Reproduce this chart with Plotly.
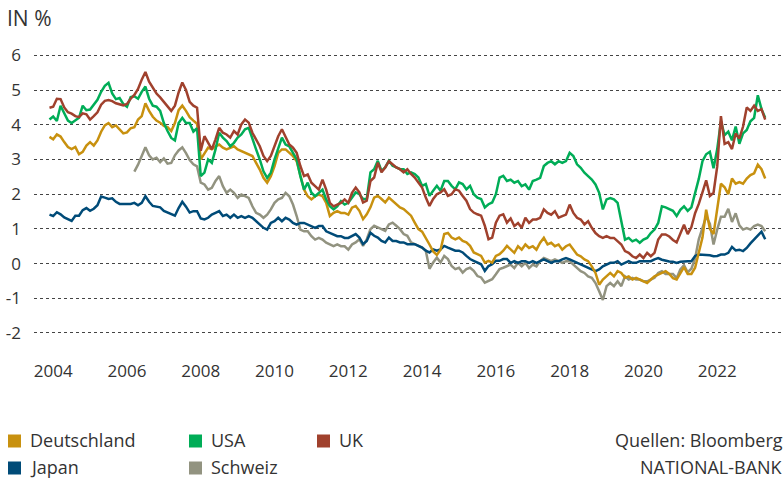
import plotly.graph_objects as go

# ---- data (10-year government bond yields, in %) sampled every 0.1 year from 2003.9 ----
start_year = 2003.9
step = 0.1

deutschland = [3.65,
    3.58, 3.72, 3.66, 3.50, 3.36, 3.30, 3.36, 3.15, 3.22, 3.40,
    3.50, 3.40, 3.55, 3.80, 3.98, 4.05, 3.93, 3.98, 3.85, 3.75,
    3.78, 3.90, 3.93, 4.15, 4.25, 4.62, 4.40, 4.23, 4.12, 4.06,
    3.97, 3.93, 3.82, 4.05, 4.42, 4.55, 4.40, 4.22, 4.12, 4.03,
    3.00, 3.19, 3.34, 3.29, 3.38, 3.43, 3.34, 3.29, 3.34, 3.38,
    3.29, 3.24, 3.19, 3.14, 3.10, 2.90, 2.71, 2.47, 2.33, 2.52,
    2.81, 3.19, 3.29, 3.29, 3.19, 3.10, 2.95, 2.52, 2.13, 1.94,
    1.85, 1.94, 1.99, 1.94, 1.75, 1.37, 1.46, 1.51, 1.46, 1.46,
    1.41, 1.61, 1.66, 1.52, 1.28, 1.42, 1.62, 1.90, 1.95, 1.86,
    1.76, 1.90, 1.81, 1.71, 1.62, 1.57, 1.47, 1.38, 1.18, 0.99,
    0.92, 0.75, 0.55, 0.35, 0.25, 0.40, 0.85, 0.88, 0.75, 0.70,
    0.75, 0.65, 0.61, 0.51, 0.32, 0.27, 0.22, 0.03, 0.08, 0.03,
    0.22, 0.27, 0.37, 0.51, 0.40, 0.31, 0.50, 0.40, 0.55, 0.45,
    0.50, 0.40, 0.60, 0.74, 0.55, 0.60, 0.50, 0.55, 0.40, 0.50,
    0.55, 0.40, 0.26, 0.21, 0.12, 0.07, -0.08, -0.27, -0.61, -0.46,
    -0.37, -0.27, -0.37, -0.22, -0.27, -0.41, -0.37, -0.46, -0.41, -0.46,
    -0.51, -0.56, -0.46, -0.37, -0.32, -0.27, -0.22, -0.30, -0.42, -0.46,
    -0.27, -0.10, -0.30, -0.30, -0.12, 0.35, 0.75, 1.55, 1.00, 0.85,
    1.55, 2.30, 2.20, 2.00, 2.45, 2.30, 2.35, 2.30, 2.45, 2.55,
    2.60, 2.85, 2.72, 2.45]

usa = [4.15,
    4.24, 4.11, 4.55, 4.33, 4.12, 4.05, 4.12, 4.20, 4.55, 4.42,
    4.44, 4.58, 4.72, 4.95, 5.12, 5.21, 4.90, 4.74, 4.77, 4.60,
    4.52, 4.80, 4.82, 4.75, 4.95, 5.10, 4.75, 4.55, 4.52, 4.40,
    4.05, 3.82, 3.62, 3.55, 4.05, 4.20, 4.05, 4.05, 3.80, 3.90,
    2.52, 2.62, 3.00, 2.90, 3.29, 3.77, 3.63, 3.53, 3.38, 3.48,
    3.63, 3.72, 3.87, 3.91, 3.58, 3.29, 3.00, 2.66, 2.47, 2.62,
    3.00, 3.34, 3.63, 3.43, 3.38, 3.19, 3.00, 2.52, 2.13, 2.33,
    2.04, 1.94, 2.04, 2.13, 1.85, 1.65, 1.56, 1.65, 1.80, 1.70,
    1.75, 1.89, 2.05, 2.00, 1.86, 1.86, 2.63, 2.72, 2.96, 2.67,
    2.77, 2.96, 2.82, 2.77, 2.72, 2.72, 2.58, 2.63, 2.58, 2.48,
    2.24, 2.29, 1.95, 2.10, 2.24, 2.10, 2.38, 2.38, 2.24, 2.14,
    2.34, 2.29, 2.14, 2.24, 2.00, 1.90, 1.86, 1.62, 1.71, 1.76,
    2.00, 2.48, 2.53, 2.38, 2.42, 2.33, 2.38, 2.23, 2.28, 2.13,
    2.38, 2.42, 2.47, 2.81, 2.90, 2.95, 2.86, 2.95, 2.90, 2.95,
    3.19, 3.10, 2.86, 2.76, 2.62, 2.52, 2.42, 2.28, 2.04, 1.56,
    1.85, 1.89, 1.85, 1.75, 1.27, 0.69, 0.74, 0.64, 0.69, 0.60,
    0.69, 0.74, 0.88, 0.98, 1.17, 1.65, 1.62, 1.57, 1.52, 1.37,
    1.55, 1.65, 1.52, 1.62, 2.02, 2.44, 2.95, 3.15, 3.22, 2.75,
    3.30, 4.10, 3.70, 3.80, 3.55, 3.95, 3.45, 3.75, 3.85, 4.10,
    4.20, 4.85, 4.45, 4.20]

uk = [4.49,
    4.52, 4.75, 4.74, 4.50, 4.36, 4.32, 4.25, 4.22, 4.33, 4.30,
    4.15, 4.25, 4.36, 4.58, 4.69, 4.71, 4.68, 4.62, 4.59, 4.56,
    4.60, 4.75, 4.86, 5.03, 5.30, 5.52, 5.24, 5.06, 4.90, 4.79,
    4.66, 4.50, 4.40, 4.55, 4.93, 5.22, 5.00, 4.66, 4.55, 4.49,
    3.25, 3.67, 3.48, 3.29, 3.58, 3.91, 3.77, 3.72, 3.63, 3.82,
    3.72, 4.01, 4.15, 4.06, 3.77, 3.58, 3.38, 3.10, 2.95, 3.10,
    3.38, 3.67, 3.87, 3.63, 3.43, 3.34, 3.19, 2.81, 2.52, 2.57,
    2.33, 2.23, 2.13, 2.42, 2.13, 1.75, 1.65, 1.70, 1.75, 1.85,
    1.75, 2.04, 2.19, 2.05, 1.76, 1.81, 2.38, 2.48, 2.91, 2.63,
    2.77, 2.95, 2.85, 2.77, 2.72, 2.63, 2.72, 2.58, 2.48, 2.34,
    2.19, 1.90, 1.66, 1.86, 2.00, 2.05, 2.14, 1.95, 2.00, 2.14,
    2.10, 1.95, 1.81, 1.57, 1.47, 1.42, 1.38, 1.09, 0.70, 0.75,
    1.18, 1.38, 1.42, 1.18, 1.30, 1.08, 1.17, 1.03, 1.32, 1.17,
    1.27, 1.27, 1.32, 1.56, 1.46, 1.41, 1.51, 1.32, 1.37, 1.41,
    1.70, 1.46, 1.32, 1.27, 1.13, 1.22, 1.03, 0.88, 0.79, 0.74,
    0.79, 0.74, 0.74, 0.64, 0.55, 0.36, 0.31, 0.21, 0.16, 0.26,
    0.16, 0.31, 0.21, 0.31, 0.69, 0.84, 0.84, 0.78, 0.68, 0.61,
    0.85, 1.12, 0.85, 1.05, 1.45, 1.72, 2.05, 2.40, 1.95, 2.04,
    2.80, 4.25, 3.45, 3.50, 3.30, 3.75, 3.60, 3.95, 4.50, 4.40,
    4.55, 4.40, 4.45, 4.15]

japan = [1.41,
    1.37, 1.48, 1.42, 1.33, 1.27, 1.23, 1.38, 1.38, 1.54, 1.60,
    1.52, 1.58, 1.68, 1.93, 1.90, 1.86, 1.88, 1.78, 1.72, 1.73,
    1.72, 1.72, 1.75, 1.68, 1.75, 1.94, 1.78, 1.66, 1.63, 1.62,
    1.52, 1.48, 1.42, 1.38, 1.60, 1.78, 1.64, 1.47, 1.51, 1.51,
    1.30, 1.27, 1.32, 1.41, 1.46, 1.51, 1.37, 1.41, 1.32, 1.41,
    1.32, 1.37, 1.32, 1.37, 1.32, 1.22, 1.12, 1.03, 0.98, 1.17,
    1.22, 1.32, 1.22, 1.32, 1.27, 1.17, 1.12, 1.17, 1.17, 1.12,
    1.08, 1.03, 1.08, 1.08, 0.93, 0.89, 0.84, 0.79, 0.79, 0.74,
    0.74, 0.79, 0.85, 0.75, 0.56, 0.65, 0.89, 0.80, 0.75, 0.65,
    0.61, 0.75, 0.65, 0.65, 0.61, 0.61, 0.56, 0.56, 0.56, 0.51,
    0.46, 0.37, 0.32, 0.41, 0.37, 0.41, 0.51, 0.46, 0.41, 0.37,
    0.37, 0.32, 0.22, 0.13, 0.08, 0.03, -0.02, -0.21, -0.07, -0.02,
    0.08, 0.08, 0.13, 0.13, 0.02, 0.07, 0.02, 0.07, 0.07, 0.02,
    0.07, 0.02, 0.07, 0.12, 0.07, 0.02, 0.07, 0.07, 0.12, 0.16,
    0.12, 0.07, 0.02, -0.03, -0.08, -0.13, -0.17, -0.22, -0.17, -0.08,
    -0.03, 0.02, 0.02, 0.07, -0.03, 0.02, 0.07, 0.02, 0.02, 0.07,
    0.07, 0.07, 0.07, 0.12, 0.16, 0.11, 0.08, 0.06, 0.05, 0.02,
    0.05, 0.07, 0.07, 0.07, 0.22, 0.26, 0.26, 0.26, 0.24, 0.21,
    0.22, 0.26, 0.26, 0.31, 0.48, 0.38, 0.40, 0.36, 0.45, 0.58,
    0.69, 0.79, 0.92, 0.70]

schweiz = [None,
    None, None, None, None, None, None, None, None, None, None,
    None, None, None, None, None, None, None, None, None, None,
    None, None, 2.65, 2.85, 3.10, 3.35, 3.12, 3.00, 3.05, 2.92,
    3.03, 2.88, 2.90, 3.12, 3.26, 3.35, 3.18, 2.98, 2.86, 2.80,
    2.33, 2.28, 2.13, 2.18, 2.38, 2.52, 2.23, 2.04, 2.13, 2.04,
    1.89, 1.99, 1.94, 1.89, 1.65, 1.46, 1.41, 1.32, 1.41, 1.56,
    1.75, 1.85, 1.89, 2.04, 1.94, 1.70, 1.37, 0.98, 0.93, 0.93,
    0.79, 0.69, 0.74, 0.69, 0.60, 0.55, 0.50, 0.55, 0.50, 0.50,
    0.40, 0.55, 0.61, 0.70, 0.51, 0.70, 0.99, 1.09, 1.04, 0.99,
    0.94, 1.13, 1.18, 1.09, 0.99, 0.85, 0.80, 0.61, 0.56, 0.51,
    0.46, 0.37, -0.15, 0.03, 0.17, 0.03, 0.22, 0.13, -0.07, -0.16,
    -0.12, -0.26, -0.16, -0.12, -0.21, -0.36, -0.40, -0.55, -0.50, -0.45,
    -0.31, -0.16, -0.12, -0.07, -0.03, -0.13, 0.02, -0.08, 0.02, -0.13,
    -0.03, -0.08, 0.07, 0.16, 0.12, 0.07, 0.12, 0.07, 0.02, 0.07,
    0.07, -0.03, -0.13, -0.22, -0.27, -0.37, -0.41, -0.56, -0.80, -1.05,
    -0.65, -0.56, -0.65, -0.51, -0.65, -0.37, -0.46, -0.41, -0.46, -0.46,
    -0.51, -0.51, -0.46, -0.41, -0.27, -0.22, -0.30, -0.30, -0.30, -0.42,
    -0.17, -0.05, -0.25, -0.15, 0.15, 0.70, 1.05, 1.35, 1.15, 0.55,
    0.98, 1.35, 1.35, 1.58, 1.20, 1.45, 1.10, 0.98, 1.02, 0.98,
    1.08, 1.12, 1.08, 0.93]

tick_years = [2004, 2006, 2008, 2010, 2012, 2014, 2016, 2018, 2020, 2022]
tick_labels = [str(y) for y in tick_years]
y_ticks = [-2, -1, 0, 1, 2, 3, 4, 5, 6]

series_names = ["Deutschland", "USA", "UK", "Japan", "Schweiz"]
colors = {"Deutschland": "#C8910F", "USA": "#00AD57", "UK": "#A0412D",
          "Japan": "#004B78", "Schweiz": "#929380"}

n = len(deutschland)
assert all(len(s) == n for s in [usa, uk, japan, schweiz])
years = [round(start_year + step * i, 2) for i in range(n)]

data = {"Deutschland": deutschland, "USA": usa, "UK": uk, "Japan": japan, "Schweiz": schweiz}

fig = go.Figure()
for name in ["Schweiz", "Japan", "Deutschland", "USA", "UK"]:
    fig.add_trace(go.Scatter(x=years, y=data[name], mode="lines", name=name,
                             line=dict(color=colors[name], width=2.5),
                             showlegend=False, connectgaps=False))

FONT = "Open Sans, Noto Sans, sans-serif"
TXT = "#333333"

W, H = 784, 479
PLOT_L, PLOT_R, PLOT_T, PLOT_B = 34, 784, 38, 359   # plot area in window pixels
ML, MR, MT, MB = PLOT_L, W - PLOT_R, PLOT_T, H - PLOT_B
PW, PH = W - ML - MR, H - MT - MB


def px_x(px):
    return (px - PLOT_L) / PW


def px_y(py):
    return (PLOT_B - py) / PH


fig.update_layout(
    width=W, height=H, autosize=False,
    margin=dict(l=ML, r=MR, t=MT, b=MB),
    paper_bgcolor="white", plot_bgcolor="white",
    font=dict(family=FONT, size=17, color=TXT),
    xaxis=dict(range=[2003.48, 2023.81], tickmode="array", tickvals=tick_years,
               ticktext=tick_labels, showgrid=False, zeroline=False, showline=False,
               ticks="", tickfont=dict(size=17, color=TXT), fixedrange=True),
    yaxis=dict(range=[-2.75, 6.5], tickmode="array", tickvals=y_ticks,
               ticktext=[str(v) for v in y_ticks],
               showgrid=True, gridcolor="#444444", gridwidth=1, griddash="dot",
               zeroline=False, showline=False, ticks="", ticklabelstandoff=12,
               tickfont=dict(size=17, color=TXT), fixedrange=True),
)

ROW1, ROW2 = 440, 467
annotations = [
    dict(text="IN %", x=px_x(6), y=px_y(18), xref="paper", yref="paper",
         xanchor="left", yanchor="middle", showarrow=False, borderpad=0,
         font=dict(size=21, color=TXT, family=FONT)),
    dict(text="Quellen: Bloomberg", x=px_x(784), y=px_y(ROW1), xref="paper", yref="paper",
         xanchor="right", yanchor="middle", showarrow=False, borderpad=0,
         font=dict(size=18, color=TXT, family=FONT)),
    dict(text="NATIONAL-BANK", x=px_x(784), y=px_y(ROW2), xref="paper", yref="paper",
         xanchor="right", yanchor="middle", showarrow=False, borderpad=0,
         font=dict(size=18, color=TXT, family=FONT)),
]
shapes = []
legend_pos = {"Deutschland": (8, ROW1), "USA": (189, ROW1), "UK": (317, ROW1),
              "Japan": (8, ROW2), "Schweiz": (189, ROW2)}
for name in series_names:
    lx, ly = legend_pos[name]
    shapes.append(dict(type="rect", xref="paper", yref="paper",
                       x0=px_x(lx), x1=px_x(lx + 13), y0=px_y(ly + 7.5), y1=px_y(ly - 5.5),
                       fillcolor=colors[name], line=dict(width=0)))
    annotations.append(dict(text=name, x=px_x(lx + 21), y=px_y(ly), xref="paper", yref="paper",
                            xanchor="left", yanchor="middle", showarrow=False, borderpad=0,
                            font=dict(size=18, color=TXT, family=FONT)))

fig.update_layout(annotations=annotations, shapes=shapes)

# remove the default page margin so the 784x479 figure fills the window exactly
fig.write_html("out.html", config={"displayModeBar": False},
               post_script="document.body.style.margin='0';document.body.style.overflow='hidden';")
